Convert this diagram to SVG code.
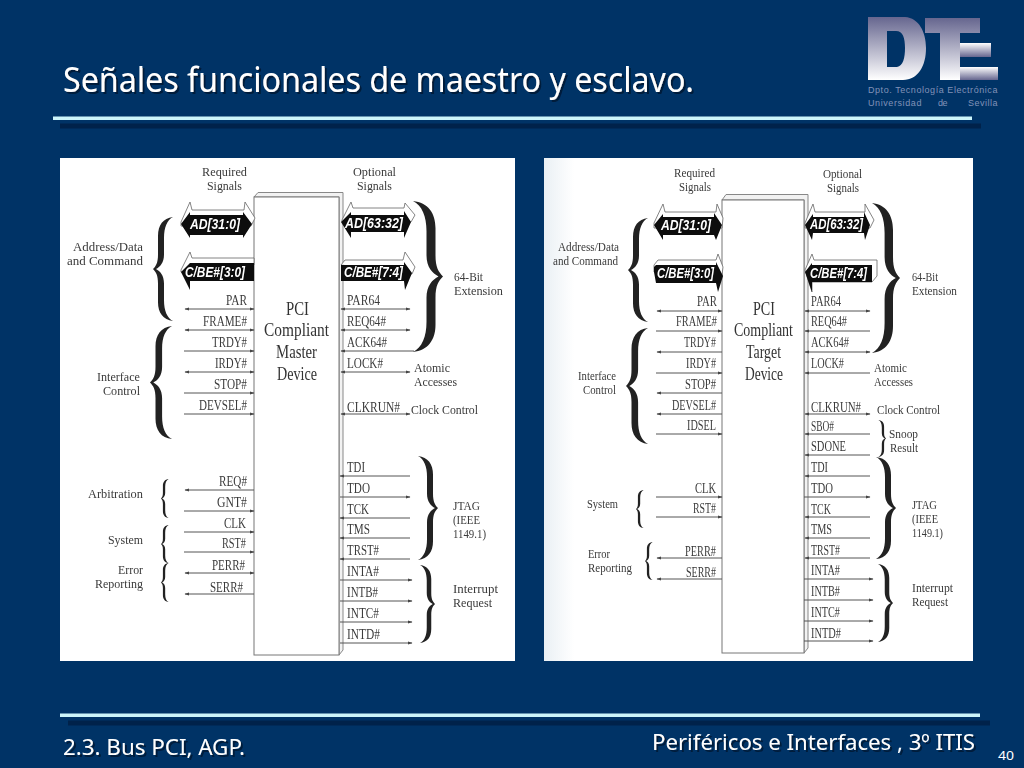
<svg xmlns="http://www.w3.org/2000/svg" width="1024" height="768" viewBox="0 0 1024 768">
<style>
.bg{fill:#003366}
.rule{fill:#ccf5fb}
.ruleS{fill:#00224a}
.h{font-family:"Noto Sans","Open Sans",sans-serif;fill:#fff}
.t{font-family:"Liberation Serif",serif;font-size:14.5px;fill:#3a3a3a}
.c{font-family:"Liberation Serif",serif;font-size:12.6px;fill:#3a3a3a}
.p{font-family:"Liberation Serif",serif;font-size:19.5px;fill:#333}
.b{font-family:"Liberation Sans",sans-serif;font-size:14px;font-weight:bold;font-style:italic;fill:#fff}
.box{fill:#fff;stroke:#777;stroke-width:1}
.box3{fill:#f2f2f2;stroke:#888;stroke-width:1}
.bk{fill:#0a0a0a}
.wf{fill:#fff;stroke:#666;stroke-width:.8}
.ln{stroke:#555;stroke-width:1;fill:none}
.both{marker-start:url(#ah);marker-end:url(#ah)}
.end{marker-end:url(#ah)}
.start{marker-start:url(#ah)}
.logoT{font-family:"Liberation Sans",sans-serif;font-size:9px;fill:#8092b8;letter-spacing:.6px}
</style>
<defs>
<marker id="ah" markerUnits="userSpaceOnUse" markerWidth="5" markerHeight="4" refX="4" refY="2" orient="auto-start-reverse"><path d="M0,0.4L4.5,2L0,3.6Z" fill="#444"/></marker>
<path id="br" fill="#222" d="M20,0C10,1 5,8 5,18L5,36C5,44 3,47 0,50C3,53 5,56 5,64L5,82C5,92 10,99 20,100C14,97 11,90 11,80L11,64C11,56 7,52 3,50C7,48 11,44 11,36L11,20C11,10 14,3 20,0Z"/>
<linearGradient id="gD" x1="0" y1="0" x2="0" y2="1"><stop offset="0" stop-color="#66668f"/><stop offset="1" stop-color="#ffffff"/></linearGradient>
<linearGradient id="gE" x1="0" y1="0" x2="0" y2="1"><stop offset="0" stop-color="#ffffff"/><stop offset="1" stop-color="#66668f"/></linearGradient>
<linearGradient id="gP" x1="0" y1="0" x2="1" y2="0"><stop offset="0" stop-color="#eaf0f4"/><stop offset=".07" stop-color="#ffffff"/></linearGradient>
<filter id="sh" x="-5%" y="-20%" width="110%" height="150%"><feDropShadow dx="2" dy="2" stdDeviation="0.6" flood-color="#001a3a" flood-opacity="1"/></filter>
<filter id="soft"><feGaussianBlur stdDeviation="0.35"/></filter>
</defs>
<rect class="bg" width="1024" height="768"/>

<g id="header">
<rect class="ruleS" x="60" y="123.500" width="921" height="5"/>
<rect class="rule" x="53" y="116.500" width="919" height="3.500"/>
<text class="h" x="63" y="92" font-size="35" textLength="631" lengthAdjust="spacingAndGlyphs" filter="url(#sh)">Señales funcionales de maestro y esclavo.</text>
</g>

<g id="logo">
<path fill="url(#gD)" fill-rule="evenodd" d="M868,17L905,17C919,18 926,32 926,48C926,66 918,80 903,80L868,80ZM887,31L887,67L897,67C903,66 905,58 905,48C905,38 903,31 896,31Z"/>
<path fill="url(#gD)" d="M925,18L980,18L980,33L960,33L960,80L940,80L940,33L925,33Z"/>
<rect fill="url(#gE)" x="960" y="43" width="31" height="14"/>
<rect fill="url(#gE)" x="960" y="67" width="38" height="13"/>
<text class="logoT" x="868" y="93" textLength="130">Dpto. Tecnología Electrónica</text>
<text class="logoT" x="868" y="106" textLength="54">Universidad</text>
<text class="logoT" x="938" y="106" textLength="10">de</text>
<text class="logoT" x="968" y="106" textLength="30">Sevilla</text>
</g>

<g id="panel-master" filter="url(#soft)">
<rect x="60" y="158" width="455" height="503" fill="#fff"/>
<g id="master-device">
<path class="box3" d="M254,197L258,192.500L343,192.500L343,650L339,655L339,197Z"/>
<rect class="box" x="254" y="197" width="85" height="458"/>
<text class="p" x="286" y="315" textLength="23" lengthAdjust="spacingAndGlyphs">PCI</text>
<text class="p" x="264" y="336" textLength="65" lengthAdjust="spacingAndGlyphs">Compliant</text>
<text class="p" x="276" y="358" textLength="41" lengthAdjust="spacingAndGlyphs">Master</text>
<text class="p" x="277" y="380" textLength="40" lengthAdjust="spacingAndGlyphs">Device</text>
</g>
<g id="master-buses">
<path class="wf" d="M181,222L190,202L192,210L244,210L245,202L255,218L251,226L181,226Z"/>
<path class="bk" d="M181,224L190,212L190,215L243,215L243,212L252,224L243,238L243,235L190,235L190,238Z"/>
<path class="wf" d="M181,270L190,252L192,258L254,258L254,265L181,272Z"/>
<path class="bk" d="M181,272L190,263L254,263L254,281L190,281L190,290Z"/>
<path class="wf" d="M342,220L351,202L353,208L404,208L405,203L415,215L411,222L342,222Z"/>
<path class="bk" d="M341,222L351,212L351,215L404,215L404,211L411,222L404,238L404,232L351,232L351,238Z"/>
<path class="wf" d="M341,265L345,260L403,260L405,252L415,267L412,274L341,265Z"/>
<path class="bk" d="M341,265L404,265L404,262L412,273L405,290L404,281L341,281Z"/>
<text class="b" x="190" y="229" textLength="50" lengthAdjust="spacingAndGlyphs">AD[31:0]</text>
<text class="b" x="185" y="277" textLength="60" lengthAdjust="spacingAndGlyphs">C/BE#[3:0]</text>
<text class="b" x="345" y="228" textLength="58" lengthAdjust="spacingAndGlyphs">AD[63:32]</text>
<text class="b" x="344" y="277" textLength="59" lengthAdjust="spacingAndGlyphs">C/BE#[7:4]</text>
</g>
<g id="master-connectors">
<line class="ln both" x1="185" y1="309" x2="254" y2="309"/>
<line class="ln both" x1="185" y1="330" x2="254" y2="330"/>
<line class="ln end" x1="184" y1="351" x2="254" y2="351"/>
<line class="ln both" x1="185" y1="372" x2="254" y2="372"/>
<line class="ln end" x1="184" y1="393" x2="254" y2="393"/>
<line class="ln end" x1="184" y1="414" x2="254" y2="414"/>
<line class="ln start" x1="185" y1="490" x2="254" y2="490"/>
<line class="ln end" x1="184" y1="511" x2="254" y2="511"/>
<line class="ln end" x1="184" y1="532" x2="254" y2="532"/>
<line class="ln end" x1="184" y1="552" x2="254" y2="552"/>
<line class="ln both" x1="185" y1="573" x2="254" y2="573"/>
<line class="ln start" x1="185" y1="594" x2="254" y2="594"/>
<line class="ln both" x1="341" y1="309" x2="410" y2="309"/>
<line class="ln both" x1="341" y1="330" x2="410" y2="330"/>
<line class="ln start" x1="341" y1="351" x2="414" y2="351"/>
<line class="ln both" x1="341" y1="372" x2="410" y2="372"/>
<line class="ln both" x1="341" y1="414" x2="410" y2="414"/>
<line class="ln start" x1="340" y1="476" x2="410" y2="476"/>
<line class="ln end" x1="340" y1="497" x2="410" y2="497"/>
<line class="ln start" x1="340" y1="518" x2="410" y2="518"/>
<line class="ln start" x1="340" y1="538" x2="410" y2="538"/>
<line class="ln start" x1="340" y1="559" x2="410" y2="559"/>
<line class="ln end" x1="340" y1="580" x2="412" y2="580"/>
<line class="ln end" x1="340" y1="601" x2="412" y2="601"/>
<line class="ln end" x1="340" y1="622" x2="412" y2="622"/>
<line class="ln end" x1="340" y1="643" x2="412" y2="643"/>
</g>
<g id="master-braces">
<use href="#br" transform="translate(153,217) scale(1,1.04)"/>
<use href="#br" transform="translate(150,326) scale(1.1,1.13)"/>
<use href="#br" transform="translate(161,479) scale(.38,.39)"/>
<use href="#br" transform="translate(161,525) scale(.38,.38)"/>
<use href="#br" transform="translate(161,563) scale(.38,.39)"/>
<use href="#br" transform="translate(443,201) scale(-1.5,1.51)"/>
<use href="#br" transform="translate(438,456) scale(-1,1.04)"/>
<use href="#br" transform="translate(435,565) scale(-.75,.78)"/>
</g>
<g id="master-labels">
<text class="c" x="202" y="176" textLength="45" lengthAdjust="spacingAndGlyphs">Required</text>
<text class="c" x="207" y="190" textLength="35" lengthAdjust="spacingAndGlyphs">Signals</text>
<text class="c" x="353" y="176" textLength="43" lengthAdjust="spacingAndGlyphs">Optional</text>
<text class="c" x="357" y="190" textLength="35" lengthAdjust="spacingAndGlyphs">Signals</text>
<text class="c" x="73" y="251" textLength="70" lengthAdjust="spacingAndGlyphs">Address/Data</text>
<text class="c" x="67" y="265" textLength="76" lengthAdjust="spacingAndGlyphs">and Command</text>
<text class="c" x="97" y="381" textLength="43" lengthAdjust="spacingAndGlyphs">Interface</text>
<text class="c" x="103" y="395" textLength="37" lengthAdjust="spacingAndGlyphs">Control</text>
<text class="c" x="88" y="498" textLength="55" lengthAdjust="spacingAndGlyphs">Arbitration</text>
<text class="c" x="108" y="544" textLength="35" lengthAdjust="spacingAndGlyphs">System</text>
<text class="c" x="118" y="574" textLength="25" lengthAdjust="spacingAndGlyphs">Error</text>
<text class="c" x="95" y="588" textLength="48" lengthAdjust="spacingAndGlyphs">Reporting</text>
<text class="t" x="226" y="305" textLength="21" lengthAdjust="spacingAndGlyphs">PAR</text>
<text class="t" x="203" y="326" textLength="44" lengthAdjust="spacingAndGlyphs">FRAME#</text>
<text class="t" x="212" y="347" textLength="35" lengthAdjust="spacingAndGlyphs">TRDY#</text>
<text class="t" x="215" y="368" textLength="32" lengthAdjust="spacingAndGlyphs">IRDY#</text>
<text class="t" x="214" y="389" textLength="33" lengthAdjust="spacingAndGlyphs">STOP#</text>
<text class="t" x="199" y="410" textLength="48" lengthAdjust="spacingAndGlyphs">DEVSEL#</text>
<text class="t" x="219" y="486" textLength="28" lengthAdjust="spacingAndGlyphs">REQ#</text>
<text class="t" x="217" y="507" textLength="30" lengthAdjust="spacingAndGlyphs">GNT#</text>
<text class="t" x="224" y="528" textLength="22" lengthAdjust="spacingAndGlyphs">CLK</text>
<text class="t" x="222" y="548" textLength="24" lengthAdjust="spacingAndGlyphs">RST#</text>
<text class="t" x="212" y="570" textLength="33" lengthAdjust="spacingAndGlyphs">PERR#</text>
<text class="t" x="210" y="592" textLength="33" lengthAdjust="spacingAndGlyphs">SERR#</text>
<text class="t" x="347" y="305" textLength="33" lengthAdjust="spacingAndGlyphs">PAR64</text>
<text class="t" x="347" y="326" textLength="39" lengthAdjust="spacingAndGlyphs">REQ64#</text>
<text class="t" x="347" y="347" textLength="40" lengthAdjust="spacingAndGlyphs">ACK64#</text>
<text class="t" x="347" y="368" textLength="36" lengthAdjust="spacingAndGlyphs">LOCK#</text>
<text class="t" x="347" y="412" textLength="53" lengthAdjust="spacingAndGlyphs">CLKRUN#</text>
<text class="c" x="411" y="414" textLength="67" lengthAdjust="spacingAndGlyphs">Clock Control</text>
<text class="c" x="414" y="372" textLength="36" lengthAdjust="spacingAndGlyphs">Atomic</text>
<text class="c" x="414" y="386" textLength="43" lengthAdjust="spacingAndGlyphs">Accesses</text>
<text class="c" x="454" y="281" textLength="29" lengthAdjust="spacingAndGlyphs">64-Bit</text>
<text class="c" x="454" y="295" textLength="49" lengthAdjust="spacingAndGlyphs">Extension</text>
<text class="t" x="347" y="472" textLength="18" lengthAdjust="spacingAndGlyphs">TDI</text>
<text class="t" x="347" y="493" textLength="23" lengthAdjust="spacingAndGlyphs">TDO</text>
<text class="t" x="347" y="514" textLength="22" lengthAdjust="spacingAndGlyphs">TCK</text>
<text class="t" x="347" y="534" textLength="23" lengthAdjust="spacingAndGlyphs">TMS</text>
<text class="t" x="347" y="555" textLength="32" lengthAdjust="spacingAndGlyphs">TRST#</text>
<text class="t" x="347" y="576" textLength="32" lengthAdjust="spacingAndGlyphs">INTA#</text>
<text class="t" x="347" y="597" textLength="31" lengthAdjust="spacingAndGlyphs">INTB#</text>
<text class="t" x="347" y="618" textLength="32" lengthAdjust="spacingAndGlyphs">INTC#</text>
<text class="t" x="347" y="639" textLength="33" lengthAdjust="spacingAndGlyphs">INTD#</text>
<text class="c" x="453" y="510" textLength="27" lengthAdjust="spacingAndGlyphs">JTAG</text>
<text class="c" x="453" y="524" textLength="27" lengthAdjust="spacingAndGlyphs">(IEEE</text>
<text class="c" x="453" y="538" textLength="33" lengthAdjust="spacingAndGlyphs">1149.1)</text>
<text class="c" x="453" y="593" textLength="45" lengthAdjust="spacingAndGlyphs">Interrupt</text>
<text class="c" x="453" y="607" textLength="39" lengthAdjust="spacingAndGlyphs">Request</text>
</g>
</g>

<g id="panel-target" filter="url(#soft)">
<rect x="544" y="158" width="429" height="503" fill="url(#gP)"/>
<g id="target-device">
<path class="box3" d="M722,200L726,194.500L808,194.500L808,648L804,653L804,200Z"/>
<rect class="box" x="722" y="200" width="82" height="453"/>
<text class="p" x="753" y="315" textLength="22" lengthAdjust="spacingAndGlyphs">PCI</text>
<text class="p" x="734" y="336" textLength="59" lengthAdjust="spacingAndGlyphs">Compliant</text>
<text class="p" x="746" y="358" textLength="35" lengthAdjust="spacingAndGlyphs">Target</text>
<text class="p" x="745" y="380" textLength="38" lengthAdjust="spacingAndGlyphs">Device</text>
</g>
<g id="target-buses">
<path class="wf" d="M654,223L663,204L665,212L716,212L717,204L723,218L722,228L654,228Z"/>
<path class="bk" d="M654,225L663,214L663,217L714,217L714,213L722,225L716,240L714,235L663,235L663,240Z"/>
<path class="wf" d="M654,265L658,260L716,260L718,254L723,267L722,275L654,272Z"/>
<path class="bk" d="M654,272L654,267L656,265L716,265L716,262L723,276L718,292L716,283L656,283Z"/>
<path class="wf" d="M805,223L813,204L815,212L865,212L865,204L874,220L870,228L805,228Z"/>
<path class="bk" d="M805,225L813,214L813,217L864,217L864,212L870,225L865,240L864,233L813,233L812,240Z"/>
<path class="wf" d="M805,270L812,254L814,260L877,260L877,276L872,282L812,282L812,292Z"/>
<path class="bk" d="M805,272L812,263L812,265L872,265L872,282L812,282L812,292Z"/>
<text class="b" x="661" y="230" textLength="50" lengthAdjust="spacingAndGlyphs">AD[31:0]</text>
<text class="b" x="657" y="278" textLength="57" lengthAdjust="spacingAndGlyphs">C/BE#[3:0]</text>
<text class="b" x="810" y="229" textLength="53" lengthAdjust="spacingAndGlyphs">AD[63:32]</text>
<text class="b" x="810" y="278" textLength="57" lengthAdjust="spacingAndGlyphs">C/BE#[7:4]</text>
</g>
<g id="target-connectors">
<line class="ln both" x1="657" y1="311" x2="722" y2="311"/>
<line class="ln end" x1="656" y1="331" x2="722" y2="331"/>
<line class="ln start" x1="657" y1="352" x2="722" y2="352"/>
<line class="ln end" x1="656" y1="373" x2="722" y2="373"/>
<line class="ln start" x1="657" y1="393" x2="722" y2="393"/>
<line class="ln start" x1="657" y1="414" x2="722" y2="414"/>
<line class="ln end" x1="656" y1="434" x2="722" y2="434"/>
<line class="ln end" x1="656" y1="497" x2="722" y2="497"/>
<line class="ln end" x1="656" y1="517" x2="722" y2="517"/>
<line class="ln start" x1="657" y1="558" x2="722" y2="558"/>
<line class="ln start" x1="657" y1="579" x2="722" y2="579"/>
<line class="ln both" x1="805" y1="311" x2="870" y2="311"/>
<line class="ln start" x1="805" y1="331" x2="870" y2="331"/>
<line class="ln both" x1="805" y1="352" x2="870" y2="352"/>
<line class="ln start" x1="805" y1="373" x2="870" y2="373"/>
<line class="ln both" x1="805" y1="414" x2="870" y2="414"/>
<line class="ln start" x1="805" y1="434" x2="870" y2="434"/>
<line class="ln start" x1="805" y1="455" x2="870" y2="455"/>
<line class="ln start" x1="805" y1="476" x2="870" y2="476"/>
<line class="ln end" x1="804" y1="497" x2="870" y2="497"/>
<line class="ln start" x1="805" y1="517" x2="870" y2="517"/>
<line class="ln start" x1="805" y1="538" x2="870" y2="538"/>
<line class="ln start" x1="805" y1="558" x2="870" y2="558"/>
<line class="ln end" x1="804" y1="579" x2="873" y2="579"/>
<line class="ln end" x1="804" y1="600" x2="873" y2="600"/>
<line class="ln end" x1="804" y1="621" x2="873" y2="621"/>
<line class="ln end" x1="804" y1="641" x2="873" y2="641"/>
</g>
<g id="target-braces">
<use href="#br" transform="translate(628,218) scale(1,1.04)"/>
<use href="#br" transform="translate(626,328) scale(1.1,1.16)"/>
<use href="#br" transform="translate(636,490) scale(.38,.38)"/>
<use href="#br" transform="translate(645,542) scale(.38,.38)"/>
<use href="#br" transform="translate(900,203) scale(-1.4,1.5)"/>
<use href="#br" transform="translate(886,420) scale(-.38,.37)"/>
<use href="#br" transform="translate(896,457) scale(-1,1.02)"/>
<use href="#br" transform="translate(893,564) scale(-.75,.78)"/>
</g>
<g id="target-labels">
<text class="c" x="674" y="177" textLength="41" lengthAdjust="spacingAndGlyphs">Required</text>
<text class="c" x="679" y="191" textLength="32" lengthAdjust="spacingAndGlyphs">Signals</text>
<text class="c" x="823" y="178" textLength="39" lengthAdjust="spacingAndGlyphs">Optional</text>
<text class="c" x="827" y="192" textLength="32" lengthAdjust="spacingAndGlyphs">Signals</text>
<text class="c" x="558" y="251" textLength="61" lengthAdjust="spacingAndGlyphs">Address/Data</text>
<text class="c" x="553" y="265" textLength="65" lengthAdjust="spacingAndGlyphs">and Command</text>
<text class="c" x="578" y="380" textLength="38" lengthAdjust="spacingAndGlyphs">Interface</text>
<text class="c" x="583" y="394" textLength="33" lengthAdjust="spacingAndGlyphs">Control</text>
<text class="t" x="697" y="306" textLength="20" lengthAdjust="spacingAndGlyphs">PAR</text>
<text class="t" x="676" y="326" textLength="41" lengthAdjust="spacingAndGlyphs">FRAME#</text>
<text class="t" x="684" y="347" textLength="32" lengthAdjust="spacingAndGlyphs">TRDY#</text>
<text class="t" x="686" y="368" textLength="30" lengthAdjust="spacingAndGlyphs">IRDY#</text>
<text class="t" x="685" y="389" textLength="31" lengthAdjust="spacingAndGlyphs">STOP#</text>
<text class="t" x="672" y="410" textLength="44" lengthAdjust="spacingAndGlyphs">DEVSEL#</text>
<text class="t" x="687" y="430" textLength="29" lengthAdjust="spacingAndGlyphs">IDSEL</text>
<text class="t" x="695" y="493" textLength="21" lengthAdjust="spacingAndGlyphs">CLK</text>
<text class="t" x="693" y="513" textLength="23" lengthAdjust="spacingAndGlyphs">RST#</text>
<text class="t" x="685" y="556" textLength="31" lengthAdjust="spacingAndGlyphs">PERR#</text>
<text class="t" x="686" y="577" textLength="30" lengthAdjust="spacingAndGlyphs">SERR#</text>
<text class="c" x="587" y="508" textLength="31" lengthAdjust="spacingAndGlyphs">System</text>
<text class="c" x="588" y="558" textLength="22" lengthAdjust="spacingAndGlyphs">Error</text>
<text class="c" x="588" y="572" textLength="44" lengthAdjust="spacingAndGlyphs">Reporting</text>
<text class="t" x="811" y="306" textLength="30" lengthAdjust="spacingAndGlyphs">PAR64</text>
<text class="t" x="811" y="326" textLength="36" lengthAdjust="spacingAndGlyphs">REQ64#</text>
<text class="t" x="811" y="347" textLength="38" lengthAdjust="spacingAndGlyphs">ACK64#</text>
<text class="t" x="811" y="368" textLength="33" lengthAdjust="spacingAndGlyphs">LOCK#</text>
<text class="t" x="811" y="412" textLength="50" lengthAdjust="spacingAndGlyphs">CLKRUN#</text>
<text class="t" x="811" y="431" textLength="23" lengthAdjust="spacingAndGlyphs">SBO#</text>
<text class="t" x="811" y="451" textLength="35" lengthAdjust="spacingAndGlyphs">SDONE</text>
<text class="t" x="811" y="472" textLength="17" lengthAdjust="spacingAndGlyphs">TDI</text>
<text class="t" x="811" y="493" textLength="22" lengthAdjust="spacingAndGlyphs">TDO</text>
<text class="t" x="811" y="514" textLength="20" lengthAdjust="spacingAndGlyphs">TCK</text>
<text class="t" x="811" y="534" textLength="21" lengthAdjust="spacingAndGlyphs">TMS</text>
<text class="t" x="811" y="555" textLength="29" lengthAdjust="spacingAndGlyphs">TRST#</text>
<text class="t" x="811" y="575" textLength="29" lengthAdjust="spacingAndGlyphs">INTA#</text>
<text class="t" x="811" y="596" textLength="29" lengthAdjust="spacingAndGlyphs">INTB#</text>
<text class="t" x="811" y="617" textLength="29" lengthAdjust="spacingAndGlyphs">INTC#</text>
<text class="t" x="811" y="638" textLength="30" lengthAdjust="spacingAndGlyphs">INTD#</text>
<text class="c" x="874" y="372" textLength="33" lengthAdjust="spacingAndGlyphs">Atomic</text>
<text class="c" x="874" y="386" textLength="39" lengthAdjust="spacingAndGlyphs">Accesses</text>
<text class="c" x="877" y="414" textLength="63" lengthAdjust="spacingAndGlyphs">Clock Control</text>
<text class="c" x="912" y="281" textLength="26" lengthAdjust="spacingAndGlyphs">64-Bit</text>
<text class="c" x="912" y="295" textLength="45" lengthAdjust="spacingAndGlyphs">Extension</text>
<text class="c" x="889" y="438" textLength="29" lengthAdjust="spacingAndGlyphs">Snoop</text>
<text class="c" x="890" y="452" textLength="28" lengthAdjust="spacingAndGlyphs">Result</text>
<text class="c" x="912" y="509" textLength="25" lengthAdjust="spacingAndGlyphs">JTAG</text>
<text class="c" x="912" y="523" textLength="26" lengthAdjust="spacingAndGlyphs">(IEEE</text>
<text class="c" x="912" y="537" textLength="31" lengthAdjust="spacingAndGlyphs">1149.1)</text>
<text class="c" x="912" y="592" textLength="41" lengthAdjust="spacingAndGlyphs">Interrupt</text>
<text class="c" x="912" y="606" textLength="36" lengthAdjust="spacingAndGlyphs">Request</text>
</g>
</g>

<g id="footer">
<rect class="ruleS" x="68" y="720.500" width="922" height="5"/>
<rect class="rule" x="60" y="713.500" width="920" height="3.500"/>
<text class="h" x="63" y="755" font-size="22" textLength="182" lengthAdjust="spacingAndGlyphs" filter="url(#sh)">2.3. Bus PCI, AGP.</text>
<text class="h" x="652" y="750" font-size="22" textLength="323" lengthAdjust="spacingAndGlyphs" filter="url(#sh)">Periféricos e Interfaces , 3º ITIS</text>
<text class="h" x="998" y="760" font-size="12" textLength="16" lengthAdjust="spacingAndGlyphs">40</text>
</g>
</svg>
